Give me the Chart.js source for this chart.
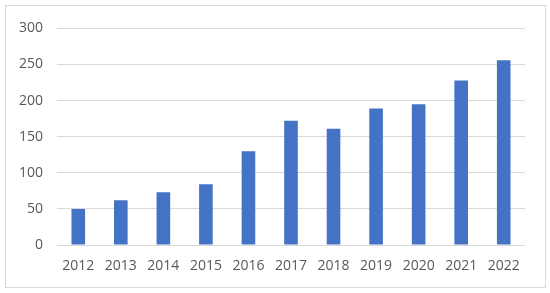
<!DOCTYPE html>
<html>
<head>
<meta charset="utf-8">
<script src="https://cdn.jsdelivr.net/npm/chart.js@4/dist/chart.umd.min.js"></script>
<style>
  body { margin: 0; background: #fff; }
  #box {
    position: absolute; left: 5px; top: 5px;
    width: 539px; height: 281px;
    border: 1px solid #d9d9d9;
  }
</style>
</head>
<body>
<div id="box"><canvas id="chart" width="539" height="281"></canvas></div>
<script>
const years = ["2012", "2013", "2014", "2015", "2016", "2017", "2018", "2019", "2020", "2021", "2022"];
const values = [50, 62, 73, 84, 130, 172, 161, 189, 195, 228, 256];
const yTicks = [0, 50, 100, 150, 200, 250, 300];

const font = { family: "'Open Sans', 'Liberation Sans', sans-serif", size: 14 };

new Chart(document.getElementById("chart").getContext("2d"), {
  type: "bar",
  data: {
    labels: years,
    datasets: [
      {
        data: values,
        backgroundColor: "#4472C4",
        barPercentage: 0.32,
        categoryPercentage: 1,
      },
    ],
  },
  options: {
    responsive: false,
    animation: false,
    layout: { padding: { top: 19, right: 20, left: 0, bottom: 0 } },
    plugins: { legend: { display: false }, tooltip: { enabled: false } },
    scales: {
      x: {
        grid: { display: false, drawTicks: false },
        border: { display: false },
        ticks: { color: "#595959", font, padding: 13 },
        afterFit: (s) => { s.height = 42; },
      },
      y: {
        min: 0,
        max: 300,
        afterBuildTicks: (s) => { s.ticks = yTicks.map((v) => ({ value: v })); },
        grid: { color: "#d9d9d9", drawTicks: false },
        border: { display: false },
        ticks: { color: "#595959", font, padding: 14 },
        afterFit: (s) => { s.width = 51; },
      },
    },
  },
});
</script>
</body>
</html>
